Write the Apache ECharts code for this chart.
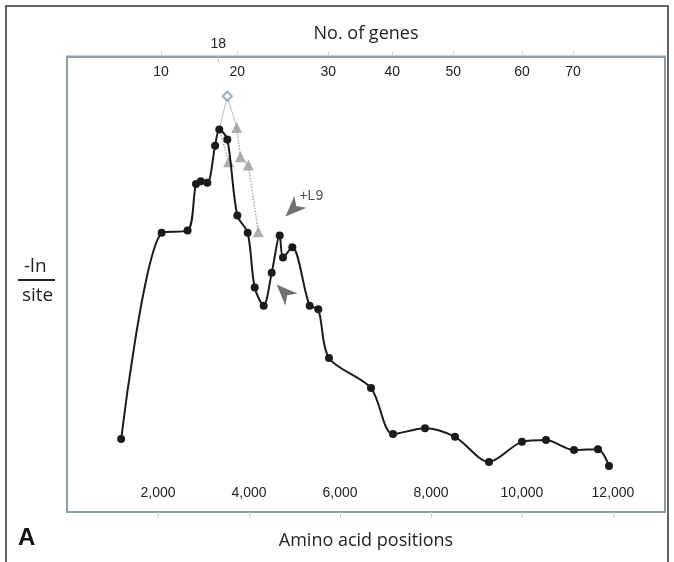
<!DOCTYPE html>
<html>
<head>
<meta charset="utf-8">
<script src="https://cdn.jsdelivr.net/npm/echarts@6/dist/echarts.min.js"></script>
<style>
  html, body { margin: 0; padding: 0; background: #fff; }
  #chart { width: 674px; height: 562px; }
</style>
</head>
<body>
<div id="chart"></div>
<script>
// amino acid position (x) and relative -ln/site (y, no scale shown)
const aaPos = [1190, 2080, 2650, 2835, 2940, 3085, 3255, 3347, 3523, 3743, 3971, 4125, 4323, 4499,
  4675, 4747, 4952, 5334, 5523, 5758, 6681, 7165, 7868, 8527, 9275, 10000, 10527, 11143, 11670, 11912]
const lnSite = [16.0, 61.3, 61.8, 72.0, 72.6, 72.3, 80.4, 84.0, 81.8, 65.1, 61.3, 49.3, 45.3, 52.5,
  60.7, 55.9, 58.1, 45.3, 44.5, 33.8, 27.2, 17.1, 18.4, 16.5, 11.0, 15.4, 15.8, 13.6, 13.8, 10.1]

// grey alternatives near the peak: diamond, then triangles
const diamondPos = [3523], diamondVal = [91.3]
const triPos = [3554, 3730, 3809, 3985, 4204]
const triVal = [76.9, 84.4, 78.0, 76.2, 61.5]

// top axis: number of genes and where they fall
const geneTicks = [10, 20, 30, 40, 50, 60, 70]
const genePos = [2066, 3743, 5743, 7149, 8490, 10000, 11121]
const gene18 = 18, gene18Pos = 3325

const aaTicks = [2000, 4000, 6000, 8000, 10000, 12000]

// arrowheads: [x, y, rotate, label]
const arrows = [[4967, 66.5, 45, '+L9'], [4769, 48.3, -45, '']]

const XMAX = 13143
const boxColor = '#8f9fa6'
const tickFont = 'Liberation Sans, Arial, sans-serif'
const titleFont = 'Open Sans, Noto Sans, sans-serif'

const mainData = aaPos.map((x, i) => [x, lnSite[i]])
const peakIdx = lnSite.indexOf(Math.max(...lnSite))
const peak = mainData[peakIdx]
const diamond = [diamondPos[0], diamondVal[0]]
const tris = triPos.map((x, i) => [x, triVal[i]])

const genesLabel = {}
genePos.forEach((p, i) => { genesLabel[p] = geneTicks[i] })

let myChart = echarts.init(document.getElementById('chart'))

myChart.setOption({
  animation: false,
  backgroundColor: '#fff',
  grid: {
    left: 67, right: 9, top: 56.5, bottom: 50,
    show: true, borderColor: boxColor, borderWidth: 2, backgroundColor: 'transparent'
  },
  xAxis: [
    {
      type: 'value', position: 'bottom', min: 0, max: XMAX,
      splitLine: { show: false },
      axisLine: { show: true, lineStyle: { color: boxColor, width: 2 } },
      axisTick: { show: true, customValues: aaTicks, length: 6, lineStyle: { color: '#d0d0d0' } },
      axisLabel: {
        inside: true, margin: 12, customValues: aaTicks,
        formatter: v => v.toLocaleString('en-US'),
        color: '#222', fontSize: 14, fontFamily: tickFont
      },
      name: 'Amino acid positions', nameLocation: 'middle', nameGap: 20,
      nameTextStyle: { fontSize: 18, color: '#222', fontFamily: titleFont }
    },
    {
      type: 'value', position: 'top', min: 0, max: XMAX,
      splitLine: { show: false },
      axisLine: { show: true, lineStyle: { color: boxColor, width: 2 } },
      axisTick: { show: true, customValues: genePos, length: 5, lineStyle: { color: '#d0d0d0' } },
      axisLabel: {
        inside: true, margin: 9, customValues: genePos,
        formatter: v => genesLabel[v],
        color: '#222', fontSize: 14, fontFamily: tickFont
      },
      name: 'No. of genes', nameLocation: 'middle', nameGap: 14,
      nameTextStyle: { fontSize: 18, color: '#222', fontFamily: titleFont }
    },
    {
      // the single "18" mark above the box
      type: 'value', position: 'top', min: 0, max: XMAX,
      splitLine: { show: false },
      axisLine: { show: false },
      axisTick: { show: true, inside: true, customValues: [gene18Pos], length: 6, lineStyle: { color: '#c8c8c8' } },
      axisLabel: {
        margin: 5, customValues: [gene18Pos], formatter: () => gene18,
        color: '#222', fontSize: 14, fontFamily: tickFont
      }
    }
  ],
  yAxis: {
    type: 'value', min: 0, max: 100, show: false
  },
  graphic: [
    { type: 'rect', shape: { x: 6, y: 6, width: 662, height: 620 }, style: { fill: 'none', stroke: '#333', lineWidth: 1.5 }, silent: true },
    { type: 'text', left: 24, top: 257, style: { text: '-ln', fill: '#222', font: '19px ' + titleFont } },
    { type: 'line', shape: { x1: 18, y1: 280, x2: 55, y2: 280 }, style: { stroke: '#222', lineWidth: 2 } },
    { type: 'text', left: 22, top: 286, style: { text: 'site', fill: '#222', font: '19px ' + titleFont } },
    { type: 'text', left: 18, top: 526, style: { text: 'A', fill: '#111', font: 'bold 24px Liberation Sans, Arial, sans-serif' } }
  ],
  series: [
    {
      // thin grey lines to the diamond
      type: 'line', data: [peak, diamond, tris[1]], symbol: 'none', z: 1,
      lineStyle: { color: '#bdbdbd', width: 1 }
    },
    {
      type: 'line', data: [peak, tris[0]], symbol: 'none', z: 1,
      lineStyle: { color: '#a8a8a8', width: 1.5, type: 'dotted' }
    },
    {
      type: 'line', data: tris.slice(1), symbol: 'none', z: 1,
      lineStyle: { color: '#a8a8a8', width: 1.5, type: 'dotted' }
    },
    {
      type: 'scatter', data: tris, symbol: 'triangle', symbolSize: 11, z: 2,
      itemStyle: { color: '#9a9a9a' }
    },
    {
      type: 'scatter', data: [diamond], symbol: 'emptyDiamond', symbolSize: 9, z: 2,
      itemStyle: { color: '#7f93a6', borderWidth: 1.5 }
    },
    {
      type: 'line', data: mainData, smooth: 0.3, z: 3,
      symbol: 'circle', symbolSize: 8, showSymbol: true,
      lineStyle: { color: '#1b1b1b', width: 2 },
      itemStyle: { color: '#1b1b1b' }
    },
    {
      type: 'scatter', z: 4,
      data: arrows.map(a => ({
        value: [a[0], a[1]], symbolRotate: a[2],
        label: { show: !!a[3], formatter: a[3] }
      })),
      symbol: 'path://M0,6 L14,0 L10,6 L14,12 Z', symbolSize: [21, 17],
      itemStyle: { color: '#4d4d4d' },
      label: { position: 'right', offset: [-12, -13], color: '#222', fontSize: 14, fontFamily: tickFont }
    }
  ]
})
</script>
</body>
</html>
